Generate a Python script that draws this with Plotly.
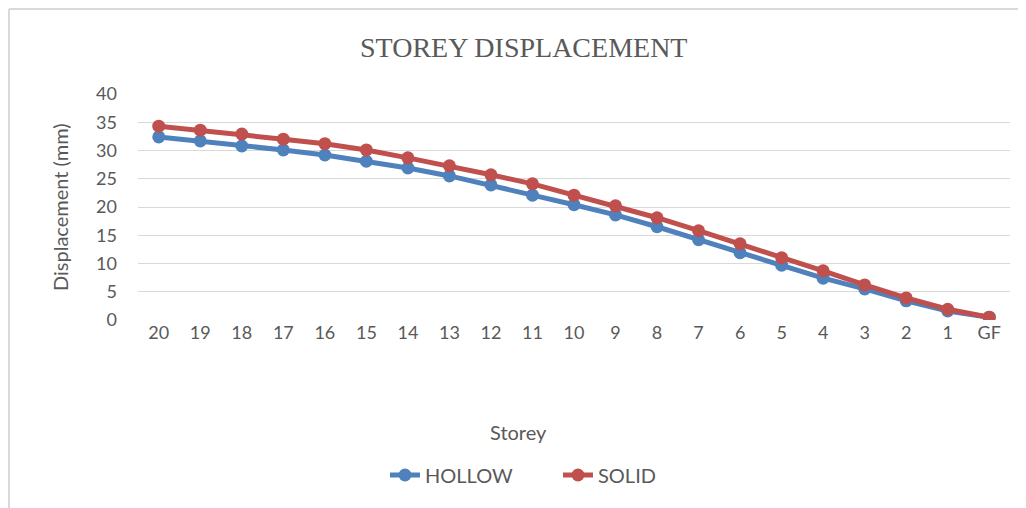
import plotly.graph_objects as go

storeys = ["20", "19", "18", "17", "16", "15", "14", "13", "12", "11", "10",
           "9", "8", "7", "6", "5", "4", "3", "2", "1", "GF"]
hollow = [32.4, 31.7, 30.8, 30.1, 29.2, 28.1, 26.9, 25.5, 23.9, 22.1, 20.4,
          18.6, 16.5, 14.2, 11.9, 9.7, 7.4, 5.5, 3.4, 1.6, 0.5]
solid = [34.3, 33.6, 32.9, 32.0, 31.2, 30.1, 28.7, 27.3, 25.7, 24.1, 22.1,
         20.2, 18.1, 15.8, 13.5, 11.0, 8.7, 6.2, 3.9, 1.9, 0.5]

W, H = 1026, 508
OFF = 8  # page body margin offset
# target plot area in screen pixels
SX0, SX1, SY0, SY1 = 138, 1010, 94, 320
L, T = SX0 - OFF, SY0 - OFF
R = W - (SX1 - OFF)
B = H - (SY1 - OFF)
pw, ph = W - L - R, H - T - B

def px(x):
    return (x - OFF - L) / pw

def py(y):
    return (H - B - (y - OFF)) / ph

txt = "#595959"
fig = go.Figure()
fig.add_trace(go.Scatter(x=storeys, y=hollow, name="HOLLOW", mode="lines+markers",
                         line=dict(color="#4F81BD", width=5),
                         marker=dict(size=13, color="#4F81BD")))
fig.add_trace(go.Scatter(x=storeys, y=solid, name="SOLID", mode="lines+markers",
                         line=dict(color="#C0504D", width=5),
                         marker=dict(size=13, color="#C0504D")))

fig.update_layout(
    width=W, height=H,
    margin=dict(l=L, r=R, t=T, b=B, autoexpand=False),
    paper_bgcolor="white", plot_bgcolor="white",
    font=dict(family="Lato, Open Sans, sans-serif", size=17, color=txt),
    showlegend=True,
    legend=dict(orientation="h", x=px(385), y=py(475),
                xanchor="left", yanchor="middle",
                entrywidth=128, entrywidthmode="pixels",
                font=dict(size=20, color=txt)),
    xaxis=dict(type="category", range=[-0.5, 20.5], showgrid=False, showline=False,
               zeroline=False, automargin=False,
               ticks="", tickfont=dict(size=18, color=txt), ticklabelstandoff=0),
    yaxis=dict(range=[0, 40], dtick=5, showgrid=True, gridcolor="#D9D9D9", gridwidth=1,
               zeroline=False, showline=False, ticks="", automargin=False,
               tickfont=dict(size=18, color=txt), ticklabelstandoff=20),
    annotations=[
        dict(text="STOREY DISPLACEMENT", x=px(523), y=py(47), xref="paper", yref="paper",
             showarrow=False, xanchor="center", yanchor="middle",
             font=dict(family="Liberation Serif, serif", size=28, color=txt)),
        dict(text="Displacement (mm)", x=px(60), y=py(207), xref="paper", yref="paper",
             showarrow=False, xanchor="center", yanchor="middle", textangle=-90,
             font=dict(size=20, color=txt)),
        dict(text="Storey", x=px(518), y=py(432), xref="paper", yref="paper",
             showarrow=False, xanchor="center", yanchor="middle",
             font=dict(size=20, color=txt)),
    ],
    shapes=[
        dict(type="line", xref="paper", yref="paper", x0=px(9), x1=px(1040), y0=py(9), y1=py(9),
             line=dict(color="#D9D9D9", width=2)),
        dict(type="line", xref="paper", yref="paper", x0=px(9), x1=px(9), y0=py(9), y1=py(520),
             line=dict(color="#D9D9D9", width=2)),
    ],
)

fig.write_html("out.html")
